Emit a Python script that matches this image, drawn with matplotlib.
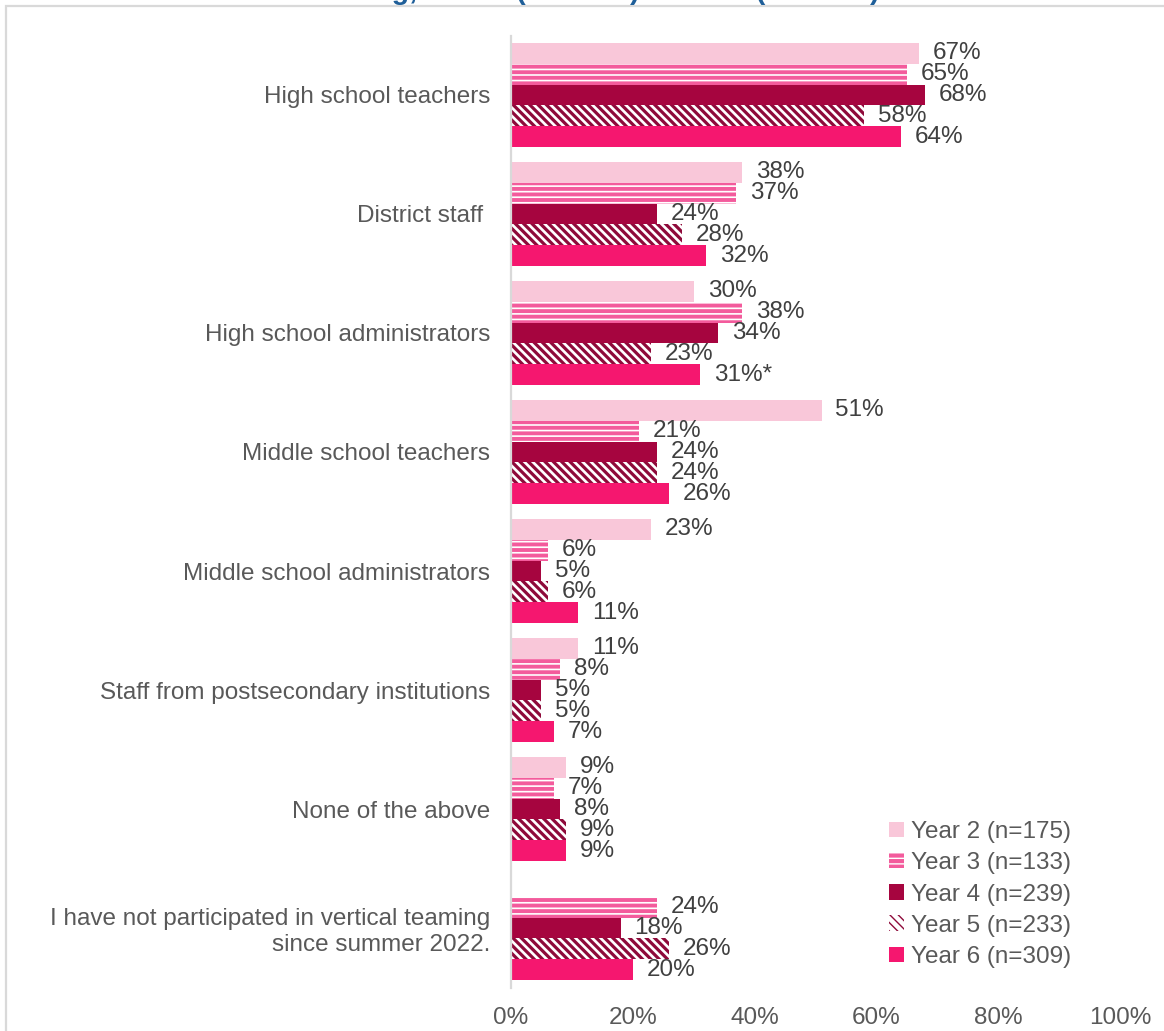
import numpy as np
import matplotlib
matplotlib.use("Agg")
import matplotlib.pyplot as plt
from matplotlib.patches import Rectangle

plt.rcParams["font.family"] = ["Liberation Sans", "DejaVu Sans"]

categories = [
    "High school teachers",
    "District staff ",
    "High school administrators",
    "Middle school teachers",
    "Middle school administrators",
    "Staff from postsecondary institutions",
    "None of the above",
    "I have not participated in vertical teaming\nsince summer 2022.",
]
series_names = ["Year 2 (n=175)", "Year 3 (n=133)", "Year 4 (n=239)",
                "Year 5 (n=233)", "Year 6 (n=309)"]
year2 = [67, 38, 30, 51, 23, 11, 9, np.nan]
year3 = [65, 37, 38, 21, 6, 8, 7, 24]
year4 = [68, 24, 34, 24, 5, 5, 8, 18]
year5 = [58, 28, 23, 24, 6, 5, 9, 26]
year6 = [64, 32, 31, 26, 11, 7, 9, 20]
label_suffix = {(4, 2): "*"}  # (series, category) -> extra mark on label
xticks = [0, 20, 40, 60, 80, 100]

BSL = chr(92)  # backslash, for the diagonal hatch
# styles per series: face, hatch colour, hatch, hatch width
styles = [
    dict(color="#F9C7D9", edge="none", hatch=None, hlw=1.0),
    dict(color="#F35B9C", edge="white", hatch="---", hlw=1.2),
    dict(color="#A6053F", edge="none", hatch=None, hlw=1.0),
    dict(color="white", edge="#8E0A3A", hatch=BSL * 4, hlw=2.3),
    dict(color="#F5176F", edge="none", hatch=None, hlw=1.0),
]

W, H = 1164, 1031
fig = plt.figure(figsize=(W / 100, H / 100), dpi=100)
ax = fig.add_axes([511 / W, 1 - 987.5 / H, (1120 - 511) / W, (987.5 - 35.5) / H])

# chart frame (only top/left visible)
fig.patches.append(Rectangle((5.5 / W, -0.1), 1.2, 1.1 - 6.5 / H, transform=fig.transFigure,
                             fill=False, edgecolor="#D9D9D9", linewidth=1.6, zorder=0))

# clipped title
fig.text(300 / W, 1 + 1.0 / H, "teaming, Year 2 (2018-19) - Year 6 (2022-23)",
         ha="left", va="baseline", fontsize=20.5, fontweight="bold", color="#1F5F99")

y = np.arange(len(categories))
h = 0.175
all_series = [year2, year3, year4, year5, year6]
for k, (vals, st, name) in enumerate(zip(all_series, styles, series_names)):
    pos = y + (k - 2) * h
    with plt.rc_context({"hatch.linewidth": st["hlw"]}):
        bars = ax.barh(pos, vals, height=h, color=st["color"], edgecolor=st["edge"],
                       linewidth=0, hatch=st["hatch"], label=name, zorder=2)
    for i, v in enumerate(vals):
        if np.isnan(v):
            continue
        ax.annotate(f"{v:.0f}%" + label_suffix.get((k, i), ""), xy=(v, pos[i]),
                    xytext=(10, 0), textcoords="offset points", ha="left", va="center",
                    fontsize=17.5, color="#404040")

ax.set_xlim(0, 100)
ax.set_ylim(len(categories) - 0.5, -0.5)
ax.set_xticks(xticks)
ax.set_xticklabels([f"{t}%" for t in xticks])
ax.set_yticks(y)
ax.set_yticklabels(categories)
ax.tick_params(axis="both", length=0, labelsize=17.5, labelcolor="#595959")
ax.tick_params(axis="y", pad=15)
ax.tick_params(axis="x", pad=14)
for side in ["top", "right", "bottom"]:
    ax.spines[side].set_visible(False)
ax.spines["left"].set_color("#D9D9D9")
ax.spines["left"].set_linewidth(1.6)
ax.spines["left"].set_zorder(3)

ax.legend(loc="lower left", bbox_to_anchor=(889 / W, 1 - 968 / H),
          bbox_transform=fig.transFigure, frameon=False, fontsize=17.5,
          labelcolor="#595959", handlelength=0.6, handleheight=0.6,
          handletextpad=0.3, labelspacing=0.38, borderpad=0, borderaxespad=0)

fig.savefig("out.png", dpi=100)
